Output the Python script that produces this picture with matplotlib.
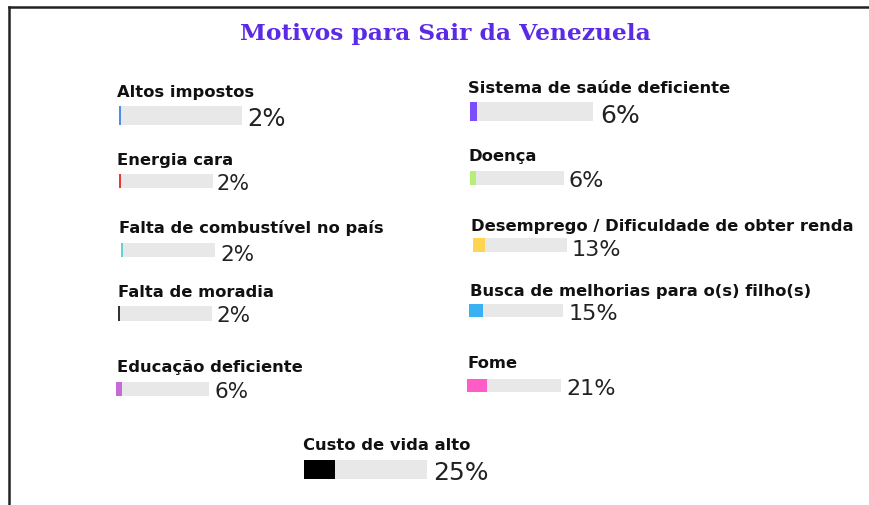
import matplotlib.pyplot as plt
from matplotlib.lines import Line2D

# --------------------------

title = "Motivos para Sair da Venezuela"

labels = [
    "Altos impostos",
    "Energia cara",
    "Falta de combustível no país",
    "Falta de moradia",
    "Educação deficiente",
    "Sistema de saúde deficiente",
    "Doença",
    "Desemprego / Dificuldade de obter renda",
    "Busca de melhorias para o(s) filho(s)",
    "Fome",
    "Custo de vida alto",
]

values = [2, 2, 2, 2, 6, 6, 6, 13, 15, 21, 25]

colors = ["#4a90e2", "#e53935", "#5fd3d6", "#333333", "#c76ad8", "#7b4dff",
          "#b5ef7a", "#ffd452", "#3ab2f2", "#ff5cc8", "#000000"]

# layout in pixels: bar box (x0, x1, y0, y1), label baseline, pct x / baseline, pct size
bar_boxes = [(119, 242, 107, 126), (119, 213, 175, 189), (121, 215, 244, 258),
             (118, 212, 307, 322), (116, 209, 383, 397), (470, 593, 103, 122),
             (470, 564, 172, 186), (473, 567, 239, 253), (469, 563, 305, 318),
             (467, 561, 380, 393), (304, 427, 461, 480)]
label_xy = [(117, 97), (117, 165), (119, 233), (118, 297), (117, 372), (468, 93),
            (469, 161), (471, 231), (470, 296), (468, 368), (303, 450)]
pct_xy = [(247, 126), (216, 190), (220, 261), (216, 322), (215, 398), (600, 123),
          (569, 187), (572, 256), (569, 320), (566, 395), (433, 480)]
pct_size = [17.5, 15, 15.5, 15.5, 15.5, 18, 16, 16, 16, 16, 18]

W, H = 869, 506

fig = plt.figure(figsize=(W / 100, H / 100), dpi=100)
fig.patch.set_facecolor("white")

# frame around the panel
fig.add_artist(Line2D([9 / W, 9 / W], [0, 1 - 8 / H], color="#222222", lw=1.8))
fig.add_artist(Line2D([9 / W, 1], [1 - 8 / H, 1 - 8 / H], color="#222222", lw=1.8))

fig.text(445 / W, 1 - 40 / H, title, ha="center", va="baseline",
         family="DejaVu Serif", weight="bold", fontsize=16.8, color="#5b2ae6")

for i, label in enumerate(labels):
    x0, x1, y0, y1 = bar_boxes[i]
    ax = fig.add_axes([x0 / W, 1 - y1 / H, (x1 - x0) / W, (y1 - y0) / H])
    ax.barh(0, 100, height=1, color="#e8e8e8")
    ax.barh(0, values[i], height=1, color=colors[i])
    ax.set_xlim(0, 100)
    ax.set_ylim(-0.5, 0.5)
    ax.axis("off")

    lx, ly = label_xy[i]
    fig.text(lx / W, 1 - ly / H, label, ha="left", va="baseline",
             family="DejaVu Sans", weight="bold", fontsize=11.8, color="#111111")

    px, py = pct_xy[i]
    fig.text(px / W, 1 - py / H, f"{values[i]}%", ha="left", va="baseline",
             family="DejaVu Sans", fontsize=pct_size[i], color="#222222")

plt.savefig("out.png", dpi=100)
plt.close()
